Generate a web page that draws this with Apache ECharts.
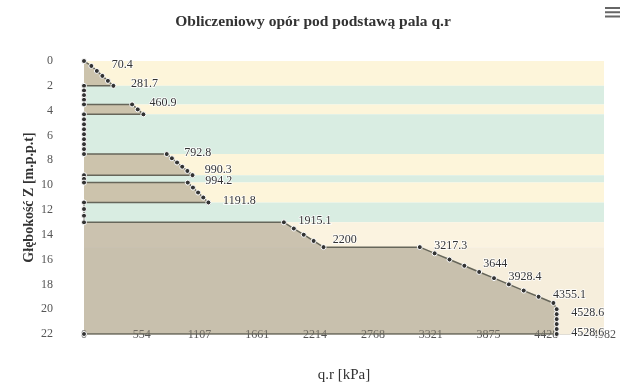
<!DOCTYPE html>
<html>
<head>
<meta charset="utf-8">
<script src="https://cdn.jsdelivr.net/npm/echarts@6/dist/echarts.min.js"></script>
<style>
html,body{margin:0;padding:0;background:#fff;}
#c{width:626px;height:388px;}
</style>
</head>
<body>
<div id="c"></div>
<script>
// ---- data ----
const depth = [
  0, 0.4, 0.8, 1.2, 1.6, 2.0,
  2.0, 2.375, 2.75, 3.125, 3.5,
  3.5, 3.9, 4.3,
  4.3, 4.7, 5.1, 5.5, 5.9, 6.3, 6.7, 7.1, 7.5,
  7.5, 7.84, 8.18, 8.52, 8.86, 9.2,
  9.2, 9.5, 9.8,
  9.8, 10.2, 10.6, 11.0, 11.4,
  11.4, 11.93, 12.47, 13.0,
  13.0, 13.5, 14.0, 14.5, 15.0,
  15.0, 15.5, 16.0, 16.5, 17.0, 17.5, 18.0, 18.5, 19.0, 19.5,
  20.0, 20.4, 20.8, 21.2, 21.6, 22.0,
  22.0
];
const qr = [
  0, 70.4, 123.2, 176.0, 228.9, 281.7,
  0, 0, 0, 0, 0,
  460.9, 515.0, 569.1,
  0, 0, 0, 0, 0, 0, 0, 0, 0,
  792.8, 842.2, 891.5, 940.9, 990.3, 1039.7,
  0, 0, 0,
  994.2, 1043.6, 1093.0, 1142.4, 1191.8,
  0, 0, 0, 0,
  1915.1, 2010.1, 2105.1, 2200, 2295.0,
  3217.3, 3359.5, 3501.8, 3644, 3786.2, 3928.4, 4070.6, 4212.9, 4355.1, 4497.3,
  4528.6, 4528.6, 4528.6, 4528.6, 4528.6, 4528.6,
  0
];
const labeled = [
  0, 1, 0, 0, 0, 1,
  0, 0, 0, 0, 0,
  1, 0, 0,
  0, 0, 0, 0, 0, 0, 0, 0, 0,
  1, 0, 0, 0, 1, 0,
  0, 0, 0,
  1, 0, 0, 0, 1,
  0, 0, 0, 0,
  1, 0, 0, 1, 0,
  1, 0, 0, 1, 0, 1, 0, 0, 1, 0,
  0, 1, 0, 0, 0, 1,
  0
];
// soil layers (plot bands)
const layerFrom = [0, 2, 3.5, 4.3, 7.5, 9.2, 9.8, 11.4, 13, 15];
const layerTo   = [2, 3.5, 4.3, 7.5, 9.2, 9.8, 11.4, 13, 15, 22];
const layerKind = ['sand','clay','sand','clay','sand','clay','sand','clay','sand2','sand3'];
const depthTicks = {min: 0, max: 22, step: 2};
const qMax = 4982;

// ---- styles ----
const FONT = 'Liberation Serif';
const kindColor = {sand:'#fdf5da', clay:'#d9ede2', sand2:'#fbf3e0', sand3:'#f6eedc'};

const points = depth.map((d, i) => [qr[i], d]);
const lineData = points.map((p, i) => ({
  value: p,
  label: {show: labeled[i] === 1}
}));
const bands = layerFrom.map((f, i) => [
  {yAxis: f, itemStyle: {color: kindColor[layerKind[i]]}},
  {yAxis: layerTo[i]}
]);

const chart = echarts.init(document.getElementById('c'), null, {renderer: 'canvas'});
chart.setOption({
  animation: false,
  backgroundColor: '#fff',
  title: {
    text: 'Obliczeniowy opór pod podstawą pala q.r',
    left: 'center', top: 9,
    textStyle: {fontFamily: FONT, fontSize: 15.5, fontWeight: 'bold', color: '#333'}
  },
  toolbox: {
    right: 6, top: 7, padding: 0, itemSize: 15,
    iconStyle: {color: '#666', borderWidth: 0},
    feature: {
      myMenu: {show: true, title: '', icon: 'path://M0,0H15V2H0Z M0,4.3H15V6.3H0Z M0,8.6H15V10.6H0Z', onclick: function(){}}
    }
  },
  grid: {left: 84, right: 22, top: 61, bottom: 54},
  xAxis: {
    type: 'value', min: 0, max: qMax, interval: qMax / 9,
    name: 'q.r [kPa]', nameLocation: 'middle', nameGap: 34, nameMoveOverlap: false,
    nameTextStyle: {fontFamily: FONT, fontSize: 15, color: '#333'},
    axisLine: {show: false}, axisTick: {show: false}, splitLine: {show: false},
    axisLabel: {fontFamily: FONT, fontSize: 12, color: '#555', margin: -5,
      formatter: v => String(Math.round(v))},
    z: 1
  },
  yAxis: {
    type: 'value', inverse: true, min: depthTicks.min, max: depthTicks.max, interval: depthTicks.step,
    name: 'Głębokość Z [m.p.p.t]', nameLocation: 'middle', nameGap: 48, nameRotate: 90,
    nameMoveOverlap: false,
    nameTextStyle: {fontFamily: FONT, fontSize: 14, fontWeight: 'bold', color: '#333'},
    axisLine: {show: false}, axisTick: {show: false},
    axisLabel: {fontFamily: FONT, fontSize: 12, color: '#555', margin: 31},
    splitLine: {lineStyle: {color: '#e0ddd5', width: 1}},
    z: 1
  },
  series: [
    {
      type: 'line', data: [], z: 0, silent: true,
      markArea: {silent: true, data: bands}
    },
    {
      type: 'custom', coordinateSystem: 'cartesian2d', z: 2, silent: true,
      data: points, encode: {x: 0, y: 1},
      renderItem: function (params, api) {
        if (params.dataIndex !== 0) return {type: 'group', children: []};
        const pts = points.map(p => api.coord(p));
        return {type: 'polygon', shape: {points: pts},
          style: {fill: 'rgba(144,136,116,0.45)'}};
      }
    },
    {
      type: 'line', z: 3, data: lineData,
      symbol: 'circle', symbolSize: 5,
      lineStyle: {color: '#66665a', width: 1.5},
      itemStyle: {color: '#333', borderColor: '#fff', borderWidth: 1},
      label: {
        position: 'inside', offset: [31, -1.5],
        fontFamily: FONT, fontSize: 12, color: '#333',
        textBorderColor: '#fff', textBorderWidth: 1.5,
        formatter: p => String(p.value[0])
      },
      emphasis: {disabled: true}
    }
  ]
});
</script>
</body>
</html>
